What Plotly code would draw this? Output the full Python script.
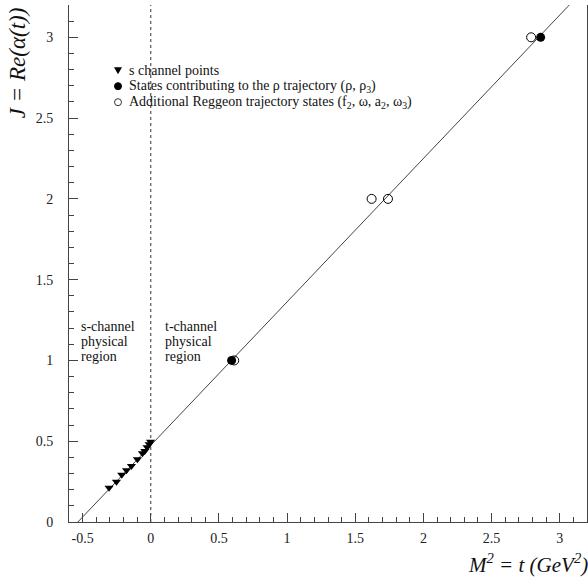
import plotly.graph_objects as go

# ---- data ----
s_t = [-0.306, -0.252, -0.213, -0.178, -0.142, -0.098, -0.061, -0.044, -0.027, -0.012, -0.002]
s_J = [0.212, 0.249, 0.292, 0.321, 0.346, 0.389, 0.425, 0.439, 0.462, 0.482, 0.497]

rho_t = [0.593, 2.86]
rho_J = [1, 3]

add_t = [0.612, 1.62, 1.74, 2.79]
add_J = [1, 2, 2, 3]

traj_t = [-0.535, 3.07]
traj_J = [0.0, 3.2]

xticks = [-0.5, 0, 0.5, 1, 1.5, 2, 2.5, 3]
yticks = [0, 0.5, 1, 1.5, 2, 2.5, 3]

legend_labels = [
    "s channel points",
    "States contributing to the ρ trajectory (ρ, ρ<sub>3</sub>)",
    "Additional Reggeon trajectory states (f<sub>2</sub>, ω, a<sub>2</sub>, ω<sub>3</sub>)",
]
s_region_lines = ["s-channel", "physical", "region"]
t_region_lines = ["t-channel", "physical", "region"]

SERIF = "Liberation Serif, Times New Roman, serif"

fig = go.Figure()

fig.add_trace(go.Scatter(x=traj_t, y=traj_J, mode="lines",
                         line=dict(color="#444", width=1), showlegend=False, hoverinfo="skip"))
fig.add_trace(go.Scatter(x=[0, 0], y=[0, 3.2], mode="lines",
                         line=dict(color="#333", width=1, dash="3px,3px"), showlegend=False, hoverinfo="skip"))

fig.add_trace(go.Scatter(x=s_t, y=s_J, mode="markers", showlegend=False,
                         marker=dict(symbol="triangle-down", size=8, color="black")))
fig.add_trace(go.Scatter(x=add_t, y=add_J, mode="markers", showlegend=False,
                         marker=dict(symbol="circle-open", size=9, color="black", line=dict(width=1))))
fig.add_trace(go.Scatter(x=rho_t, y=rho_J, mode="markers", showlegend=False,
                         marker=dict(symbol="circle", size=9, color="black")))

axis_common = dict(
    showgrid=False, zeroline=False, showline=True, linecolor="#444", linewidth=1,
    ticks="inside", ticklen=9, tickcolor="#444", tickwidth=1,
    tickfont=dict(family=SERIF, size=14, color="#222"),
    minor=dict(ticks="inside", ticklen=5, dtick=0.1, tickcolor="#444", tickwidth=1),
)

fig.update_xaxes(range=[-0.6, 3.2], tickvals=xticks,
                 ticktext=[str(v) for v in xticks], mirror=False, ticklabelstandoff=3, **axis_common)
fig.update_yaxes(range=[0, 3.2], tickvals=yticks,
                 ticktext=[str(v) for v in yticks], mirror=True, ticklabelstandoff=12, **axis_common)

# axis titles
fig.add_annotation(x=1.005, y=-0.08, xref="paper", yref="paper", xanchor="right", yanchor="middle",
                   text="<i>M<sup>2</sup> = t (GeV<sup>2</sup>)</i>", showarrow=False,
                   font=dict(family=SERIF, size=21, color="#111"))
fig.add_annotation(x=-0.099, y=1.0, xref="paper", yref="paper", xanchor="center", yanchor="top",
                   text="<i>J = Re(α(t))</i>", showarrow=False, textangle=-90,
                   font=dict(family=SERIF, size=23, color="#111"))

# region labels
line_y = [1.208, 1.115, 1.022]
for txt, yy in zip(s_region_lines, line_y):
    fig.add_annotation(x=-0.525, y=yy, xref="x", yref="y", xanchor="left", yanchor="middle",
                       text=txt, showarrow=False, font=dict(family=SERIF, size=14, color="#111"))
for txt, yy in zip(t_region_lines, line_y):
    fig.add_annotation(x=0.09, y=yy, xref="x", yref="y", xanchor="left", yanchor="middle",
                       text=txt, showarrow=False, font=dict(family=SERIF, size=14, color="#111"))

# custom legend
leg_x = 0.0946
leg_tx = 0.112
leg_y = [0.874, 0.843, 0.812]
for lab, yy in zip(legend_labels, leg_y):
    fig.add_annotation(x=leg_tx, y=yy, xref="paper", yref="paper", xanchor="left", yanchor="middle",
                       text=lab, showarrow=False, font=dict(family=SERIF, size=14, color="#111"))
fig.add_shape(type="path", xref="paper", yref="paper", xsizemode="pixel", ysizemode="pixel",
              xanchor=leg_x, yanchor=leg_y[0], path="M-4,3 L4,3 L0,-4 Z",
              fillcolor="black", line=dict(color="black", width=0))
fig.add_shape(type="circle", xref="paper", yref="paper", xsizemode="pixel", ysizemode="pixel",
              xanchor=leg_x, yanchor=leg_y[1], x0=-3.5, x1=3.5, y0=-3.5, y1=3.5,
              fillcolor="black", line=dict(color="black", width=1))
fig.add_shape(type="circle", xref="paper", yref="paper", xsizemode="pixel", ysizemode="pixel",
              xanchor=leg_x, yanchor=leg_y[2], x0=-3.5, x1=3.5, y0=-3.5, y1=3.5,
              fillcolor="white", line=dict(color="#333", width=1))

fig.update_layout(
    width=588, height=579,
    margin=dict(l=69, r=1, t=5, b=57),
    paper_bgcolor="white", plot_bgcolor="white",
    showlegend=False,
)

fig.write_html("out.html", config={"displayModeBar": False},
               post_script="document.body.style.margin='0px';document.body.style.padding='0px';")
